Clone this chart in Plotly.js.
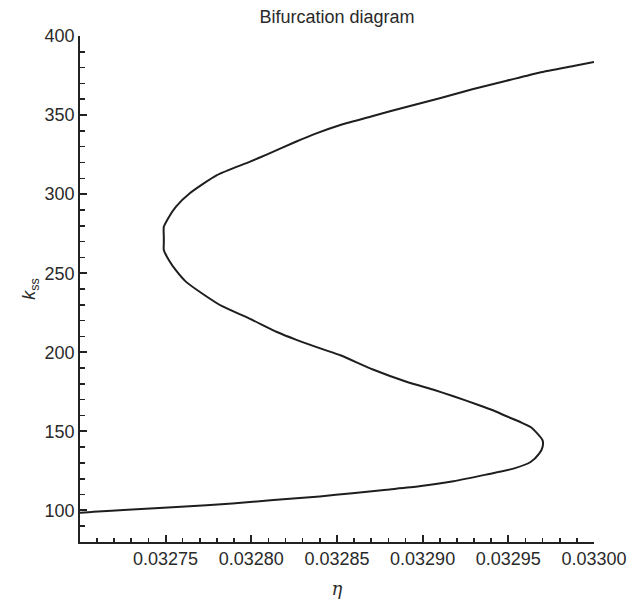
<!DOCTYPE html>
<html>
<head>
<meta charset="utf-8">
<script src="https://cdn.plot.ly/plotly-3.0.1.min.js"></script>
<style>html,body{margin:0;padding:0;background:#fff;}#chart{width:630px;height:602px;}</style>
</head>
<body>
<div id="chart"></div>
<script>
// Bifurcation curve, ordered along the branch (lower -> middle -> upper)
const eta = [0.032700, 0.032708, 0.032728, 0.032759, 0.032789, 0.032813, 0.032840, 0.032859, 0.032879, 0.032898,
  0.032918, 0.032937, 0.032953, 0.032963, 0.032968, 0.032970, 0.032970, 0.032967, 0.032963, 0.032957,
  0.032949, 0.032941, 0.032933, 0.032918, 0.032906, 0.032891, 0.032871, 0.032852, 0.032842, 0.032826,
  0.032815, 0.032799, 0.032783, 0.032772, 0.032762, 0.032756, 0.032752, 0.032749, 0.032749, 0.032749,
  0.032749, 0.032752, 0.032756, 0.032764, 0.032780, 0.032799, 0.032809, 0.032826, 0.032838, 0.032852,
  0.032871, 0.032891, 0.032910, 0.032929, 0.032949, 0.032968, 0.032988, 0.033000];
const kss = [98.5, 99.2, 100.4, 102.3, 104.4, 106.5, 108.8, 110.9, 113.1, 115.2,
  118.4, 122.6, 126.4, 130.6, 135.9, 140.1, 144.3, 148.5, 152.7, 155.9,
  159.5, 163.3, 166.5, 172.2, 176.4, 181.2, 189.1, 198.1, 201.8, 208.0,
  212.8, 221.3, 229.1, 236.7, 244.5, 251.9, 258.2, 264.6, 269.0, 273.0,
  279.3, 285.6, 292.0, 300.4, 312.0, 320.4, 325.0, 333.1, 338.4, 343.7,
  349.4, 355.3, 360.6, 366.3, 371.7, 376.8, 381.0, 383.5];

const xTick0 = 0.03275, xDtick = 0.00005, xMinorDtick = 0.00001;
const yTick0 = 100, yDtick = 50, yMinorDtick = 10;
const xRange = [0.0327001, 0.03300];
const yRange = [80, 400];

const titleText = "Bifurcation diagram";
const xTitle = "<i>η</i>";
const yTitle = "<i>k</i><sub>ss</sub>";

const fontFam = "Liberation Sans, Arial, sans-serif";
const textCol = "#2a2a2a";

const trace = {
  x: eta, y: kss, type: "scatter", mode: "lines",
  line: {color: "#1e1e1e", width: 2, shape: "spline", smoothing: 0.6},
  hoverinfo: "skip"
};

const layout = {
  width: 630, height: 602,
  margin: {l: 80, r: 36, t: 36, b: 60},
  paper_bgcolor: "#fff", plot_bgcolor: "#fff",
  showlegend: false,
  font: {family: fontFam, size: 18, color: textCol},
  title: {text: titleText, x: 0.5, xref: "paper", xanchor: "center",
          y: 1 - 17/602, yref: "container", yanchor: "middle",
          font: {family: fontFam, size: 18, color: textCol}},
  xaxis: {
    range: xRange,
    tickmode: "linear", tick0: xTick0, dtick: xDtick, tickformat: ".5f",
    ticks: "inside", ticklen: 7, tickwidth: 2, tickcolor: "#222",
    minor: {tickmode: "linear", tick0: xTick0, dtick: xMinorDtick, ticks: "inside", ticklen: 4.5, tickwidth: 1.6, tickcolor: "#222", showgrid: false},
    showline: true, linecolor: "#222", linewidth: 1.8, mirror: false,
    showgrid: false, zeroline: false,
    tickfont: {family: fontFam, size: 18, color: textCol},
    title: {text: xTitle, font: {family: "DejaVu Serif, serif", size: 18, color: textCol}, standoff: 14}
  },
  yaxis: {
    range: yRange,
    tickmode: "linear", tick0: yTick0, dtick: yDtick,
    ticks: "inside", ticklen: 7, tickwidth: 2, tickcolor: "#222",
    minor: {tickmode: "linear", tick0: yTick0, dtick: yMinorDtick, ticks: "inside", ticklen: 4.5, tickwidth: 1.6, tickcolor: "#222", showgrid: false},
    showline: true, linecolor: "#222", linewidth: 1.8, mirror: false,
    showgrid: false, zeroline: false,
    tickfont: {family: fontFam, size: 18, color: textCol},
    title: {text: yTitle, font: {family: fontFam, size: 18, color: textCol}, standoff: 4}
  }
};

Plotly.newPlot("chart", [trace], layout, {displayModeBar: false, staticPlot: true});
</script>
</body>
</html>
